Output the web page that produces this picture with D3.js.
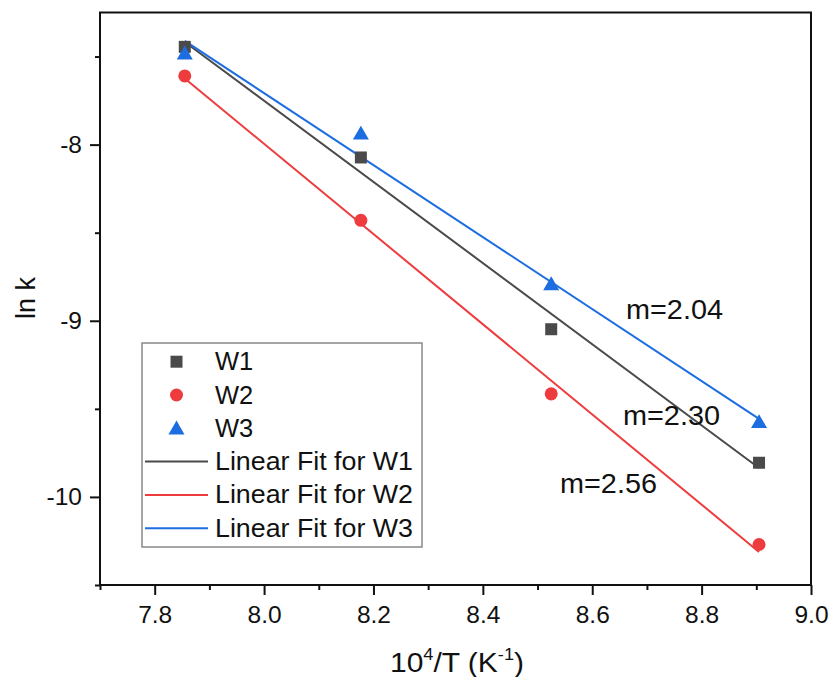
<!DOCTYPE html>
<html>
<head>
<meta charset="utf-8">
<script src="https://cdn.jsdelivr.net/npm/d3@7"></script>
<style>
  html, body { margin: 0; padding: 0; background: #fff; }
  svg text { font-family: "Liberation Sans", Arial, sans-serif; fill: #111; }
</style>
</head>
<body>
<svg id="chart" width="831" height="677"></svg>
<script>
// ---- data ----
const xValues = [7.855, 8.177, 8.525, 8.905];          // 10^4/T
const seriesNames = ["W1", "W2", "W3"];
const w1 = [-7.445, -8.073, -9.048, -9.806];
const w2 = [-7.61, -8.43, -9.415, -10.27];
const w3 = [-7.49, -7.945, -8.80, -9.583];
const slopeLabels = ["m=2.30", "m=2.56", "m=2.04"];       // W1, W2, W3
const xMajorTicks = [7.8, 8.0, 8.2, 8.4, 8.6, 8.8, 9.0];
const xMinorTicks = [7.7, 7.9, 8.1, 8.3, 8.5, 8.7, 8.9];
const yMajorTicks = [-8, -9, -10];
const yMinorTicks = [-7.5, -8.5, -9.5, -10.5];
const xDomain = [7.7, 9.0];
const yDomain = [-10.5, -7.25];

// ---- styles ----
const colors = ["#4a4a4a", "#ee3b3d", "#1c6ee0"];
const symbols = [d3.symbolSquare, d3.symbolCircle, d3.symbolTriangle];
const symbolSizes = [144, 133, 111];

const svg = d3.select("#chart");
const L = 100, R = 811, T = 12.5, B = 585;
const x = d3.scaleLinear().domain(xDomain).range([L, R]);
const y = d3.scaleLinear().domain(yDomain).range([B, T]);

// axes
const fmt = d => (Math.round(d * 10) / 10).toFixed(1);
const gx = svg.append("g").attr("transform", `translate(0,${B})`)
  .call(d3.axisBottom(x).tickValues(xMajorTicks).tickSize(10).tickPadding(11).tickFormat(fmt));
const gxm = svg.append("g").attr("transform", `translate(0,${B})`)
  .call(d3.axisBottom(x).tickValues(xMinorTicks).tickSize(5).tickFormat(""));
const gy = svg.append("g").attr("transform", `translate(${L},0)`)
  .call(d3.axisLeft(y).tickValues(yMajorTicks).tickSize(10).tickPadding(8).tickFormat(d => String(d)));
const gym = svg.append("g").attr("transform", `translate(${L},0)`)
  .call(d3.axisLeft(y).tickValues(yMinorTicks).tickSize(5).tickFormat(""));
[gx, gxm, gy, gym].forEach(g => {
  g.select(".domain").remove();
  g.selectAll(".tick line").attr("stroke", "#111").attr("stroke-width", 2);
  g.selectAll(".tick text").attr("font-size", 24.5).attr("fill", "#111")
    .style("font-family", '"Liberation Sans", Arial, sans-serif');
});

// frame
svg.append("rect").attr("x", L).attr("y", T).attr("width", R - L).attr("height", B - T)
  .attr("fill", "none").attr("stroke", "#111").attr("stroke-width", 2);

// linear fits
const data = [w1, w2, w3];
function fit(xs, ys) {
  const mx = d3.mean(xs), my = d3.mean(ys);
  const sxy = d3.sum(xs, (v, i) => (v - mx) * (ys[i] - my));
  const sxx = d3.sum(xs, v => (v - mx) * (v - mx));
  const b = sxy / sxx;
  return v => my + b * (v - mx);
}
const xMin = d3.min(xValues), xMax = d3.max(xValues);
const line = d3.line().x(d => x(d[0])).y(d => y(d[1]));
data.forEach((ys, i) => {
  const f = fit(xValues, ys);
  svg.append("path").attr("d", line([[xMin, f(xMin)], [xMax, f(xMax)]]))
    .attr("fill", "none").attr("stroke", colors[i]).attr("stroke-width", 2);
});

// points
data.forEach((ys, i) => {
  svg.append("g").selectAll("path").data(ys).join("path")
    .attr("transform", (d, j) => `translate(${x(xValues[j])},${y(d)})`)
    .attr("d", d3.symbol().type(symbols[i]).size(symbolSizes[i])())
    .attr("fill", colors[i]);
});

// slope labels
const labelPos = [[623, 425], [560, 493], [626, 319]];
slopeLabels.forEach((t, i) => {
  svg.append("text").attr("x", labelPos[i][0]).attr("y", labelPos[i][1])
    .attr("font-size", 27).attr("textLength", 97).attr("lengthAdjust", "spacingAndGlyphs").text(t);
});

// legend
const lg = svg.append("g");
lg.append("rect").attr("x", 142).attr("y", 343).attr("width", 280).attr("height", 204)
  .attr("fill", "#fff").attr("stroke", "#888").attr("stroke-width", 1.5);
const rowY = i => 361.7 + i * 33.3;
seriesNames.forEach((n, i) => {
  lg.append("path").attr("transform", `translate(176.5,${rowY(i) + (i === 2 ? 1.5 : 0)})`)
    .attr("d", d3.symbol().type(symbols[i]).size(symbolSizes[i])()).attr("fill", colors[i]);
  lg.append("text").attr("x", 215).attr("y", rowY(i) + 8.5).attr("font-size", 25.5)
    .text(n);
});
seriesNames.forEach((n, i) => {
  const yy = rowY(i + 3);
  lg.append("line").attr("x1", 145).attr("x2", 208).attr("y1", yy).attr("y2", yy)
    .attr("stroke", colors[i]).attr("stroke-width", 2);
  lg.append("text").attr("x", 215).attr("y", yy + 8.5).attr("font-size", 25.5)
    .attr("textLength", 198).attr("lengthAdjust", "spacingAndGlyphs").text("Linear Fit for " + n);
});

// axis titles
const xt = svg.append("text").attr("x", 390).attr("y", 671.5)
  .attr("font-size", 28).attr("textLength", 134).attr("lengthAdjust", "spacingAndGlyphs");
xt.append("tspan").text("10");
xt.append("tspan").attr("font-size", 17).attr("dy", -12).text("4");
xt.append("tspan").attr("dy", 12).text("/T (K");
xt.append("tspan").attr("font-size", 17).attr("dy", -12).text("-1");
xt.append("tspan").attr("dy", 12).text(")");

svg.append("text").attr("transform", "translate(35,298) rotate(-90)")
  .attr("text-anchor", "middle").attr("font-size", 27).text("ln k");
</script>
</body>
</html>
